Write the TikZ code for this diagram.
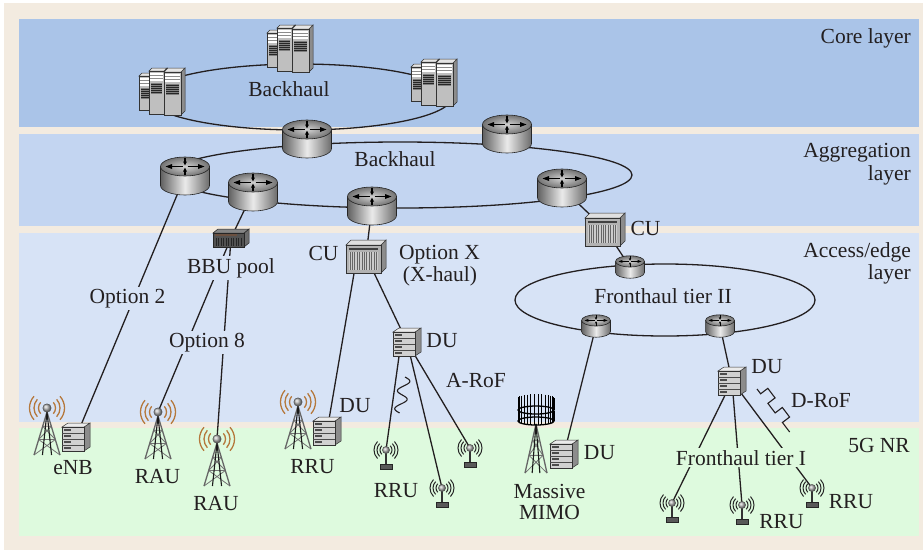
\documentclass[tikz,border=0pt]{standalone}
\usepackage{fontspec}
\setmainfont{Liberation Serif}
\definecolor{pagebg}{HTML}{F3EBE0}
\definecolor{corebg}{HTML}{AAC4E8}
\definecolor{aggbg}{HTML}{C3D5F1}
\definecolor{accbg}{HTML}{D7E3F6}
\definecolor{nrbg}{HTML}{DEFADE}
\definecolor{inkc}{HTML}{231F20}
\definecolor{waves}{HTML}{B5783C}
\definecolor{bbubar}{HTML}{6B5040}

% one server tower: left x, top y, width, height, depth
\newcommand\srvtower[5]{%
  \filldraw[draw=black!80, line width=0.5pt, fill=black!45]
    ({#1+#3},{#2}) -- ({#1+#3+#5},{#2-#5}) -- ({#1+#3+#5},{#2+#4-#5}) -- ({#1+#3},{#2+#4}) -- cycle;
  \filldraw[draw=black!80, line width=0.5pt, fill=black!10]
    (#1,#2) -- ({#1+#5},{#2-#5}) -- ({#1+#3+#5},{#2-#5}) -- ({#1+#3},#2) -- cycle;
  \filldraw[draw=black!80, line width=0.5pt, fill=black!25] (#1,#2) rectangle ({#1+#3},{#2+#4});
  \fill[white] ({#1+1},{#2+1.5}) rectangle ({#1+#3-1},{#2+10});
  \draw[black!45, line width=0.6pt] ({#1+1},{#2+4.3}) -- ({#1+#3-1},{#2+4.3})
    ({#1+1},{#2+7.2}) -- ({#1+#3-1},{#2+7.2});
  \fill[black!50] ({#1+2},{#2+12}) rectangle ({#1+#3-2},{#2+23});
  \foreach \kk in {0,...,4} \fill[black!85] ({#1+2},{#2+12.6+\kk*2.1}) rectangle ({#1+#3-2},{#2+13.7+\kk*2.1});
}

% lattice mast: apex y, base y, half width of the base
\newcommand\lattice[3]{%
  \pgfmathsetmacro\latA{#1}\pgfmathsetmacro\latB{#2}\pgfmathsetmacro\latW{#3}%
  \pgfmathsetmacro\latP{\latA+0.33*(\latB-\latA)}\pgfmathsetmacro\latQ{\latA+0.64*(\latB-\latA)}%
  \draw[black!55, line width=0.8pt]
    ({-0.33*\latW},\latP) -- ({0.64*\latW},\latQ) ({0.33*\latW},\latP) -- ({-0.64*\latW},\latQ)
    ({-0.64*\latW},\latQ) -- (\latW,\latB) ({0.64*\latW},\latQ) -- ({-\latW},\latB)
    ({-0.33*\latW},\latP) -- ({0.33*\latW},\latP) ({-0.64*\latW},\latQ) -- ({0.64*\latW},\latQ);
  \draw[black!60, line width=1.3pt] (0,\latA) -- ({-\latW},\latB) (0,\latA) -- (\latW,\latB);
  \draw[black!90, line width=1.1pt] (0,\latA) -- ({-0.35*\latW},\latB) (0,\latA) -- ({0.35*\latW},\latB);
}

\tikzset{
  link/.style={line width=1.3pt, draw=inkc},
  lbl/.style={anchor=base, inner sep=0pt, text=inkc, font=\fontsize{21.5}{23}\selectfont},
  maskacc/.style={fill=accbg, inner sep=2pt},
  masknr/.style={fill=nrbg, inner sep=2pt},
  pics/router/.style={code={
    \begin{scope}[scale=#1]
      \path[draw=black!85, line width=0.6pt, left color=black!62, right color=black!58, middle color=black!8]
        (-24.5,-9.5) -- (-24.5,9.5) arc[start angle=180, end angle=0, x radius=24.5, y radius=9.5] -- (24.5,-9.5) -- cycle;
      \path[draw=black!85, line width=0.6pt, inner color=black!18, outer color=black!55]
        (0,-9.5) ellipse[x radius=24.5, y radius=9.5];
      \draw[line width=#1*1.1pt] (-2.5,-9.5) -- (-14,-9.5) (2.5,-9.5) -- (14,-9.5)
        (0,-18.3) -- (0,-14) (0,-0.8) -- (0,-5);
      \fill (-13,-12) -- (-19.5,-9.5) -- (-13,-7) -- cycle;
      \fill (13,-12) -- (19.5,-9.5) -- (13,-7) -- cycle;
      \fill (-2,-14.5) -- (0,-10.6) -- (2,-14.5) -- cycle;
      \fill (-2,-4.5) -- (0,-8.4) -- (2,-4.5) -- cycle;
    \end{scope}
  }},
  pics/router/.default=1,
  pics/servers/.style={code={
    \srvtower{-23}{-15}{12}{34}{3}
    \srvtower{-13}{-20}{15}{43}{3}
    \srvtower{2}{-19}{17}{43}{4}
  }},
  pics/cu/.style={code={
    \filldraw[draw=black!80, line width=0.5pt, fill=black!45] (15,-11) -- (20,-16) -- (20,12) -- (15,17) -- cycle;
    \filldraw[draw=black!80, line width=0.5pt, fill=black!12] (-20,-11) -- (-15,-16) -- (20,-16) -- (15,-11) -- cycle;
    \filldraw[draw=black!80, line width=0.5pt, fill=black!30] (-20,-11) rectangle (15,17);
    \fill[black!75] (-17,-8.5) rectangle (12,-6.3);
    \fill[black!20] (-17,-4) rectangle (12,14);
    \foreach \q in {-16,-13.6,...,11} \draw[black!60, line width=0.7pt] (\q,-4) -- (\q,14);
  }},
  pics/du/.style={code={
    \filldraw[draw=black!80, line width=0.5pt, fill=black!45] (8,-10) -- (14,-14) -- (14,10) -- (8,14) -- cycle;
    \filldraw[draw=black!80, line width=0.5pt, fill=black!8] (-14,-10) -- (-8,-14) -- (14,-14) -- (8,-10) -- cycle;
    \filldraw[draw=black!80, line width=0.5pt, fill=black!18] (-14,-10) rectangle (8,14);
    \draw[black!70, line width=0.5pt] (-14,-4) -- (8,-4) (-14,2) -- (8,2) (-14,8) -- (8,8);
    \foreach \t in {-10,-4,2,8} \fill[black!70] (-12,{\t+2}) rectangle (-5,{\t+4});
  }},
  pics/bbu/.style={code={
    \filldraw[draw=black!85, line width=0.5pt, fill=black!58] (13,-5) -- (18,-9) -- (18,5) -- (13,9) -- cycle;
    \filldraw[draw=black!85, line width=0.5pt, fill=black!48] (-18,-5) -- (-13,-9) -- (18,-9) -- (13,-5) -- cycle;
    \filldraw[draw=black!85, line width=0.5pt, fill=black!68] (-18,-5) rectangle (13,9);
    \fill[bbubar] (-16,-3.6) rectangle (6,-2.2);
    \foreach \q in {-15,-12.5,...,11} \draw[black!85, line width=0.4pt] (\q,-0.5) -- (\q,7.5);
  }},
  pics/tower/.style={code={
    \lattice{4}{47}{13}
    \foreach \rr in {8.5,13,17.5}
      \draw[waves, line width=1.3pt] (-42:\rr) arc[start angle=-42, end angle=42, radius=\rr]
        (138:\rr) arc[start angle=138, end angle=222, radius=\rr];
    \shade[ball color=black!30] (0,0) circle[radius=4.2];
    \draw[black!70, line width=0.4pt] (0,0) circle[radius=4.2];
  }},
  pics/ant/.style={code={
    \foreach \rr in {6,9,12}
      \draw[black!85, line width=1pt] (-45:\rr) arc[start angle=-45, end angle=45, radius=\rr]
        (135:\rr) arc[start angle=135, end angle=225, radius=\rr];
    \draw[black!80, line width=1.5pt] (0,3) -- (0,14);
    \filldraw[fill=black!65, draw=black!85, line width=0.5pt] (-6,14) rectangle (6,19);
    \shade[ball color=black!30] (0,0) circle[radius=3.6];
    \draw[black!70, line width=0.4pt] (0,0) circle[radius=3.6];
  }},
  pics/mimo/.style={code={
    \lattice{14}{63}{11}
    \foreach \t in {0,12,...,348}
      \draw[black, line width=0.7pt] ({18*cos(\t)},{4*sin(\t)-12}) -- ({18*cos(\t)},{4*sin(\t)})
        ({18*cos(\t)},{11+4*sin(\t)-10}) -- ({18*cos(\t)},{11+4*sin(\t)});
    \draw[black, line width=1.3pt] (0,0) ellipse[x radius=18, y radius=4] (0,11) ellipse[x radius=18, y radius=4];
  }},
}

\begin{document}
\begin{tikzpicture}[x=1pt, y=-1pt]
\useasboundingbox (0,0) rectangle (923,550);
\fill[white] (0,0) rectangle (923,550);
\fill[pagebg] (4,3) rectangle (923,550);

% layer bands
\fill[corebg] (19,19) rectangle (919,127);
\fill[aggbg] (19,134) rectangle (919,226);
\fill[accbg] (19,233) rectangle (919,422);
\fill[nrbg] (19,428) rectangle (919,536);

% positions of the equipment
\coordinate (srvL) at (162,91);
\coordinate (srvT) at (290,48);
\coordinate (srvR) at (434,82);
\coordinate (rcore) at (307,139);
\coordinate (rtr) at (507,134);
\coordinate (rleft) at (185,176);
\coordinate (rl2) at (253,192);
\coordinate (rbc) at (372,206);
\coordinate (rright) at (562,188);
\coordinate (cur) at (605,229);
\coordinate (cux) at (366,256);
\coordinate (bbu) at (231,238);
\coordinate (fht) at (630,267);
\coordinate (fhl) at (596,326);
\coordinate (fhr) at (720,326);
\coordinate (dur) at (732,381);
\coordinate (dux) at (407,342);
\coordinate (dul) at (327,431);
\coordinate (due) at (76,437);
\coordinate (dum) at (564,454);
\coordinate (twe) at (47,408);
\coordinate (twa1) at (158,412);
\coordinate (twa2) at (217,439);
\coordinate (twr) at (298,402);
\coordinate (a1) at (386,450);
\coordinate (a2) at (442,488);
\coordinate (a3) at (470,448);
\coordinate (b1) at (672,503);
\coordinate (b2) at (742,505);
\coordinate (b3) at (812,488);
\coordinate (mimo) at (536,410);
\coordinate (corering) at (300,97);
\coordinate (aggring) at (400,175);
\coordinate (fhring) at (665,300);

% rings
\draw[link] (corering) ellipse[x radius=152, y radius=33];
\draw[link] (aggring) ellipse[x radius=232, y radius=33];
\draw[link] (fhring) ellipse[x radius=150, y radius=36];

% links
\draw[link] (rleft) -- (due);
\draw[link] (rl2) -- (bbu);
\draw[link] (bbu) -- (twa1);
\draw[link] (bbu) -- (twa2);
\draw[link] (rbc) -- (cux);
\draw[link] (rright) -- (cur);
\draw[link] (cur) -- (fht);
\draw[link] (fhl) -- (dum);
\draw[link] (fhr) -- (dur);
\draw[link] ([xshift=-9pt]cux.center) -- (dul);
\draw[link] (cux) -- (dux);
\draw[link] ([xshift=-6pt]dux.center) -- (a1);
\draw[link] (dux) -- (a2);
\draw[link] (dux) -- (a3);
\draw[link] (dur) -- (b1);
\draw[link] (dur) -- (b2);
\draw[link] (dur) -- (b3);

% analog radio over fibre
\draw[link, line width=1.1pt] plot[domain=0:36, samples=80, smooth] ({405-0.15*\x+5.5*sin(\x*20)}, {377+\x});
% digital radio over fibre
\begin{scope}[shift={(757,389)}, x={(0.605pt,-0.797pt)}, y={(0.797pt,0.605pt)}]
  \draw[inkc, line width=1.1pt] (0,0) -- (6,0) -- (6,9) -- (18,9) -- (18,0) -- (30,0) -- (30,9) -- (42,9) -- (42,0) -- (54,0);
\end{scope}

% equipment
\pic at (srvL) {servers};
\pic at (srvT) {servers};
\pic at (srvR) {servers};
\pic at (rcore) {router};
\pic at (rtr) {router};
\pic at (rleft) {router};
\pic at (rl2) {router};
\pic at (rbc) {router};
\pic at (rright) {router};
\pic at (fht) {router=0.59};
\pic at (fhl) {router=0.59};
\pic at (fhr) {router=0.59};
\pic at (cur) {cu};
\pic at (cux) {cu};
\pic at (bbu) {bbu};
\pic at (twe) {tower};
\pic at (twa1) {tower};
\pic at (twa2) {tower};
\pic at (twr) {tower};
\pic at (mimo) {mimo};
\pic at (dur) {du};
\pic at (dux) {du};
\pic at (dul) {du};
\pic at (due) {du};
\pic at (dum) {du};
\pic at (a1) {ant};
\pic at (a2) {ant};
\pic at (a3) {ant};
\pic at (b1) {ant};
\pic at (b2) {ant};
\pic at (b3) {ant};

% labels
\node[lbl] (tcore) at (289,96) {Backhaul};
\node[lbl] (tagg) at (395,166) {Backhaul};
\node[lbl, anchor=base east] (tl1) at (911,43) {Core layer};
\node[lbl, anchor=base east] (tl2) at (911,157) {Aggregation};
\node[lbl, anchor=base east] (tl3) at (911,180) {layer};
\node[lbl, anchor=base east] (tl4) at (911,257) {Access/edge};
\node[lbl, anchor=base east] (tl5) at (911,279) {layer};
\node[lbl, anchor=base east] (tl6) at (910,452) {5G NR};
\node[lbl, maskacc] (topt2) at (127.5,303) {Option 2};
\node[lbl, maskacc] (tbbu) at (231,273) {BBU pool};
\node[lbl, maskacc] (topt8) at (207,347) {Option 8};
\node[lbl] (tcux) at (323.5,260) {CU};
\node[lbl] (toptx) at (439.5,259) {Option X};
\node[lbl] (txhaul) at (440,281) {(X-haul)};
\node[lbl] (tdux) at (442,347) {DU};
\node[lbl] (tarof) at (476,387) {A-RoF};
\node[lbl] (tdul) at (355,412) {DU};
\node[lbl] (trrut) at (312.5,473) {RRU};
\node[lbl] (trrua) at (396,497) {RRU};
\node[lbl] (tenb) at (73,474) {eNB};
\node[lbl] (trau1) at (157.5,483) {RAU};
\node[lbl] (trau2) at (216,510) {RAU};
\node[lbl] (tcur) at (645.5,235) {CU};
\node[lbl] (tfh2) at (663,303) {Fronthaul tier II};
\node[lbl] (tdur) at (767,373) {DU};
\node[lbl] (tdrof) at (821,407) {D-RoF};
\node[lbl, masknr] (tfh1) at (741,465) {Fronthaul tier I};
\node[lbl] (trrub3) at (851,508) {RRU};
\node[lbl] (trrub2) at (781.5,528) {RRU};
\node[lbl] (tdum) at (599.5,459) {DU};
\node[lbl] (tmas) at (549.5,498) {Massive};
\node[lbl] (tmimo) at (549.5,519) {MIMO};
\end{tikzpicture}
\end{document}
